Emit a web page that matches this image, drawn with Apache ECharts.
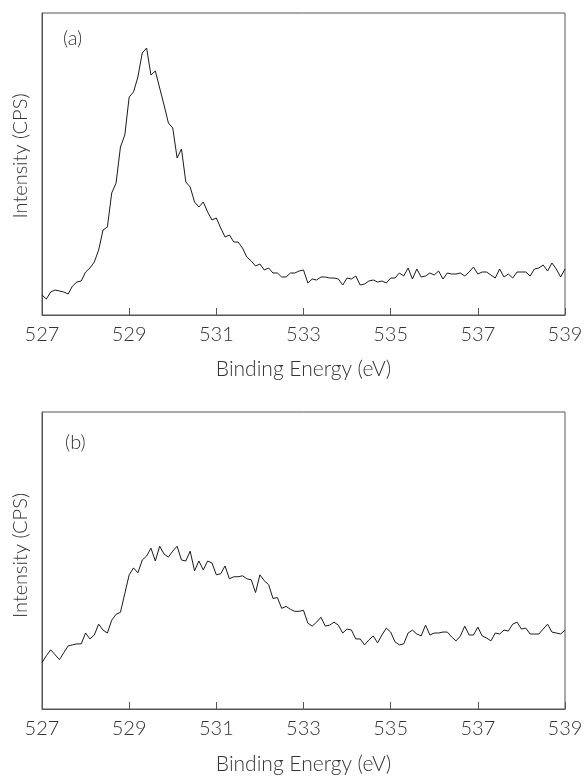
<!DOCTYPE html>
<html><head><meta charset="utf-8">
<script src="https://cdn.jsdelivr.net/npm/echarts@6/dist/echarts.min.js"></script>
<style>html,body{margin:0;padding:0;background:#fff}#c{width:586px;height:776px}</style>
</head><body><div id="c"></div>
<script>
// Binding energy grid: 527.0 .. 539.0 eV, 0.1 eV steps
const energyStart = 527;
const energyStep = 0.1;
const xTickValues = [527, 529, 531, 533, 535, 537, 539];

// Panel (a) intensity (arbitrary units)
const intensityA = [
  20,16,23,25,24,23,21,29,33,34,
  43,47,53,65,85,88,122,132,168,180,
  218,223,238,262,267,240,244,227,210,192,
  187,157,166,133,128,113,108,113,103,95,
  97,87,78,80,73,73,67,58,54,49,
  51,45,47,42,42,38,38,42,42,44,
  45,32,36,35,38,38,37,37,36,30,
  37,36,39,30,31,34,35,33,34,32,
  37,37,42,39,47,36,46,38,39,42,
  40,44,36,42,41,41,42,39,43,48,
  41,43,43,40,37,46,38,41,37,43,
  43,43,39,46,47,50,44,52,46,38,46
];

// Panel (b) intensity (arbitrary units)
const intensityB = [
  47,54,60,55,50,57,64,65,66,66,
  77,71,75,86,80,77,90,96,98,117,
  136,143,138,151,155,163,150,165,157,154,
  160,165,151,150,160,140,150,141,150,148,
  136,137,145,132,134,134,135,132,131,118,
  136,130,126,112,113,102,104,101,99,99,
  100,87,84,88,93,84,85,88,85,77,
  81,80,71,71,65,70,74,67,75,82,
  78,68,65,66,77,80,76,74,85,75,
  77,77,78,78,73,69,74,84,75,75,
  83,74,72,69,77,76,80,79,86,88,
  81,82,76,76,76,81,86,78,77,76,80
];

const panelLabels = ['(a)', '(b)'];
const xAxisName = 'Binding Energy (eV)';
const yAxisName = 'Intensity (CPS)';
const yMaxA = 302, yMaxB = 301;

function toPairs(vals) {
  return vals.map((v, i) => [+(energyStart + i * energyStep).toFixed(1), v]);
}

const FONT = 'Lato';
const FW = 300;
const TXT = '#333';
const BORDER = '#555';

function xAxisCfg(gridIndex, gap) {
  return {
    type: 'value', gridIndex, min: 527, max: 539, interval: 2,
    name: xAxisName, nameLocation: 'middle', nameGap: gap,
    nameTextStyle: { fontFamily: FONT, fontWeight: FW, fontSize: 21, color: TXT },
    axisLine: { show: true, lineStyle: { color: BORDER, width: 1 } },
    axisTick: { show: true, inside: true, length: 7, lineStyle: { color: BORDER } },
    axisLabel: { fontFamily: FONT, fontWeight: FW, fontSize: 20, color: TXT, margin: 10,
      customValues: xTickValues },
    splitLine: { show: false }
  };
}
function yAxisCfg(gridIndex, max, shift) {
  return {
    type: 'value', gridIndex, min: 0, max,
    name: yAxisName, nameLocation: 'middle', nameGap: 11,
    nameTextStyle: { fontFamily: FONT, fontWeight: FW, fontSize: 20, color: TXT, padding: [0, 0, 0, shift] },
    axisLine: { show: true, lineStyle: { color: BORDER, width: 1 } },
    axisTick: { show: false }, axisLabel: { show: false }, splitLine: { show: false }
  };
}

const chart = echarts.init(document.getElementById('c'), null, { renderer: 'canvas' });
chart.setOption({
  animation: false,
  backgroundColor: '#fff',
  title: [
    { text: panelLabels[0], left: 58, top: 24, textStyle: { fontFamily: FONT, fontWeight: FW, fontSize: 20, color: TXT } },
    { text: panelLabels[1], left: 60, top: 428, textStyle: { fontFamily: FONT, fontWeight: FW, fontSize: 20, color: TXT } }
  ],
  grid: [
    { left: 42, top: 13, width: 523, height: 302, show: true, borderColor: BORDER, borderWidth: 1, backgroundColor: 'transparent' },
    { left: 42, top: 412, width: 523, height: 301, show: true, borderColor: BORDER, borderWidth: 1, backgroundColor: 'transparent' }
  ],
  xAxis: [xAxisCfg(0, 44), xAxisCfg(1, 45)],
  yAxis: [yAxisCfg(0, yMaxA, 16), yAxisCfg(1, yMaxB, 10)],
  series: [
    { type: 'line', xAxisIndex: 0, yAxisIndex: 0, data: toPairs(intensityA), showSymbol: false,
      lineStyle: { color: '#1a1a1a', width: 1 }, silent: true },
    { type: 'line', xAxisIndex: 1, yAxisIndex: 1, data: toPairs(intensityB), showSymbol: false,
      lineStyle: { color: '#1a1a1a', width: 1 }, silent: true }
  ]
});
</script></body></html>
